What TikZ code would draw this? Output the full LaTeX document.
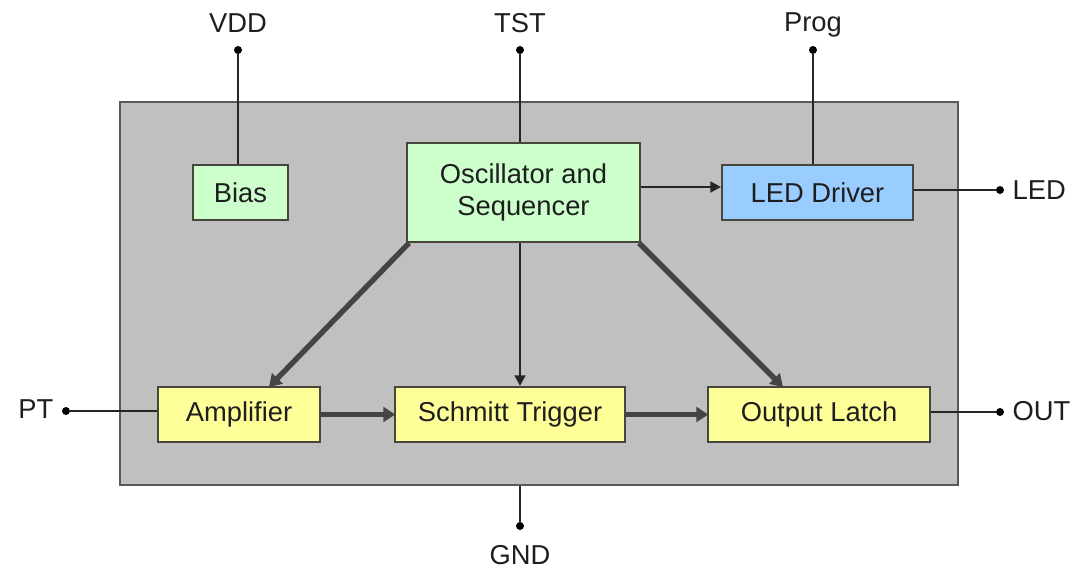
\documentclass[tikz,border=0pt]{standalone}
\usepackage{fontspec}
\setmainfont{Liberation Sans}
\usetikzlibrary{arrows.meta}
\definecolor{chip}{RGB}{192,192,192}
\definecolor{grn}{RGB}{204,255,204}
\definecolor{blu}{RGB}{153,204,255}
\definecolor{ylw}{RGB}{255,255,153}
\definecolor{edge}{RGB}{70,70,60}
\definecolor{txt}{RGB}{30,30,30}
\definecolor{arr}{RGB}{68,68,68}
\tikzset{
  blk/.style={draw=edge, line width=1.5pt, inner sep=0pt, text=txt, align=center,
    font=\fontsize{20.5}{24}\selectfont},
  pin/.style={circle, fill=black, inner sep=0pt, minimum size=6pt},
  lbl/.style={text=txt, font=\fontsize{20.5}{24}\selectfont},
  wire/.style={draw=black!85, line width=1.2pt},
  thick arrow/.style={draw=arr, line width=4pt, -{Triangle[length=9pt,width=11pt]}, shorten >=-1pt},
  thin arrow/.style={draw=black!85, line width=2pt, -{Triangle[length=8pt,width=8pt]}}
}
\begin{document}
\begin{tikzpicture}[x=0.75pt,y=-0.75pt]
\useasboundingbox (0,0) rectangle (1088,581);
\fill[white] (0,0) rectangle (1088,581);
\node[draw=black!65, line width=1.5pt, fill=chip, minimum width=838*0.75pt, minimum height=383*0.75pt, inner sep=0pt] (chip) at (539,293.5) {};
% blocks
\node[blk, fill=grn, minimum width=95*0.75pt, minimum height=55*0.75pt] (bias) at (240.5,192.5) {Bias};
\node[blk, fill=grn, minimum width=233*0.75pt, minimum height=99*0.75pt] (osc) at (523.5,192.5) {Oscillator and\\Sequencer};
\node[blk, fill=blu, minimum width=191*0.75pt, minimum height=55*0.75pt] (led) at (817.5,192.5) {LED Driver};
\node[blk, fill=ylw, minimum width=162*0.75pt, minimum height=55*0.75pt] (amp) at (239,414.5) {Amplifier};
\node[blk, fill=ylw, minimum width=230*0.75pt, minimum height=55*0.75pt] (sch) at (510,414.5) {Schmitt Trigger};
\node[blk, fill=ylw, minimum width=222*0.75pt, minimum height=55*0.75pt] (lat) at (819,414.5) {Output Latch};
% pins
\node[pin] (vdd) at (238,50) {};
\node[lbl] (vddl) at (238,23) {VDD};
\node[pin] (tst) at (520,50) {};
\node[lbl] (tstl) at (520,23) {TST};
\node[pin] (prog) at (813,50) {};
\node[lbl] (progl) at (813,25) {Prog};
\node[pin] (ledp) at (1000,190) {};
\node[lbl, anchor=west] (ledl) at (1008,190) {LED};
\node[pin] (pt) at (66,411) {};
\node[lbl, anchor=east] (ptl) at (58,409) {PT};
\node[pin] (out) at (1000,412) {};
\node[lbl, anchor=west] (outl) at (1008,411) {OUT};
\node[pin] (gnd) at (520,526) {};
\node[lbl] (gndl) at (520,555) {GND};
% wires
\draw[wire] (vdd) -- (vdd |- bias.north);
\draw[wire] (tst) -- (tst |- osc.north);
\draw[wire] (prog) -- (prog |- led.north);
\draw[wire] (led.east |- ledp) -- (ledp);
\draw[wire] (pt) -- (pt -| amp.west);
\draw[wire] (lat.east |- out) -- (out);
\draw[wire] (gnd |- chip.south) -- (gnd);
% arrows
\draw[thin arrow] (osc.east |- 0,187) -- (led.west |- 0,187);
\draw[thin arrow] (tst |- osc.south) -- (tst |- sch.north);
\draw[thick arrow] ([xshift=3*0.75pt]osc.south west) -- ([xshift=31*0.75pt]amp.north);
\draw[thick arrow] ([xshift=-2*0.75pt]osc.south east) -- ([xshift=-37*0.75pt]lat.north);
\draw[thick arrow] (amp.east) -- (sch.west);
\draw[thick arrow] (sch.east) -- (lat.west);
\end{tikzpicture}
\end{document}
